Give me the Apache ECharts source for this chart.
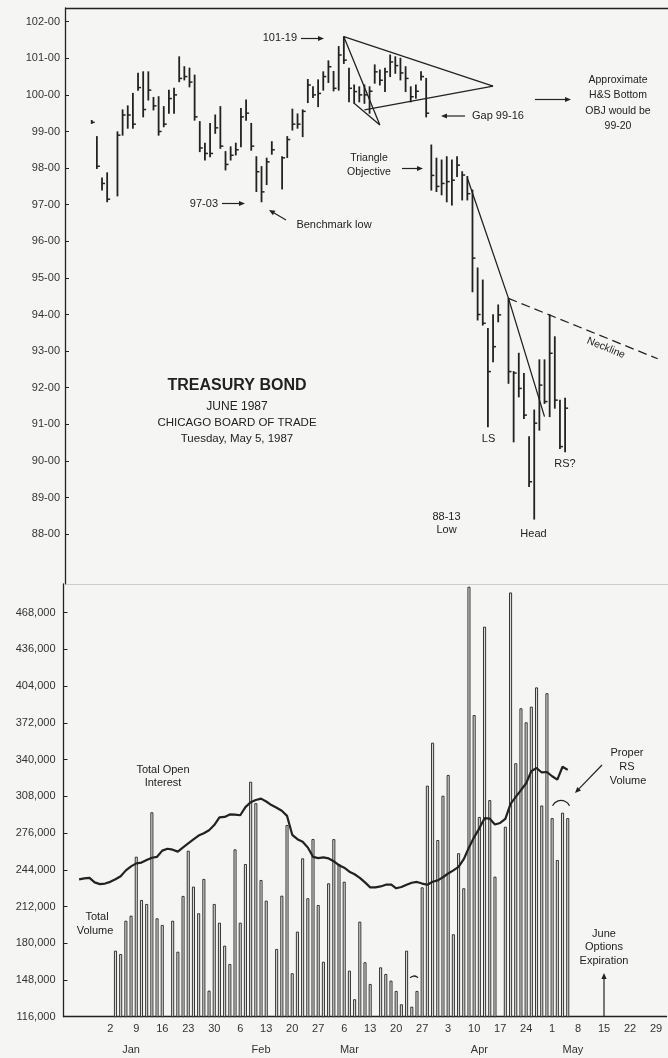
<!DOCTYPE html>
<html>
<head>
<meta charset="utf-8">
<script src="https://cdn.jsdelivr.net/npm/echarts@6/dist/echarts.min.js"></script>
<style>
  html, body { margin: 0; padding: 0; background: #f5f5f3; }
  #chart { width: 668px; height: 1058px; }
</style>
</head>
<body>
<div id="chart"></div>
<script>
// ---------- categories: trading weekdays ----------
function weekdays(from, to) {
  const out = [];
  const d = new Date(from + 'T00:00:00Z');
  const end = new Date(to + 'T00:00:00Z');
  while (d <= end) {
    const w = d.getUTCDay();
    if (w !== 0 && w !== 6) out.push(d.toISOString().slice(0, 10));
    d.setUTCDate(d.getUTCDate() + 1);
  }
  return out;
}
const sessions = weekdays('1986-12-19', '1987-06-02');
const topDays = sessions;            // price panel
const bottomDays = sessions.slice(1); // volume panel

// ---------- tick labels ----------
const priceTicks = [88, 89, 90, 91, 92, 93, 94, 95, 96, 97, 98, 99, 100, 101, 102];
const volumeTicks = [116000, 148000, 180000, 212000, 244000, 276000, 308000, 340000, 372000, 404000, 436000, 468000];
const firstDateLabel = '1987-01-02';
const monthLabels = { '1987-01-08': 'Jan', '1987-02-12': 'Feb', '1987-03-09': 'Mar', '1987-04-13': 'Apr', '1987-05-07': 'May' };

// ---------- price bars (June 1987 T-bond), from 1986-12-26 ----------
const priceStart = '1986-12-26';
const high = [
  99.30,
  98.86, 97.73, 97.87, null, 98.99,
  99.59, 99.70, 100.04, 100.59, 100.63,
  100.63, 99.93, 99.95, 99.68, 100.13,
  100.18, 101.04, 100.77, 100.73, 100.54,
  99.27, 98.68, 99.22, 99.45, 99.68,
  98.45, 98.58, 98.68, 99.63, 99.86,
  99.22, 98.31, 98.04, 98.27, 98.72,
  null, 98.31, 98.86, 99.61, 99.48,
  99.59, 100.42, 100.22, 100.41, 100.63,
  100.93, 100.64, 101.32, 101.59, 100.73,
  100.27, 100.22, 100.27, 100.22, 100.82,
  100.68, 100.73, 101.09, 101.04, 101.00,
  100.77, 100.22, 100.27, 100.63, 100.45,
  98.63, 98.27, 98.22, 98.31, 98.22,
  98.31, 97.90, 97.77, 97.40, 95.27,
  94.94, 93.62, 93.99, 94.26, null,
  94.44, 92.44, 92.94, 92.39, 90.66,
  91.39, 92.76, 92.76, 93.99, 93.39,
  91.66, 91.71
];
const low = [
  99.22,
  97.99, 97.40, 97.08, null, 97.24,
  98.90, 99.09, 99.09, 100.13, 99.40,
  99.86, 99.59, 98.90, 99.13, 99.50,
  99.50, 100.36, 100.41, 100.22, 99.31,
  98.45, 98.22, 98.31, 98.95, 98.54,
  97.95, 98.22, 98.36, 98.58, 99.31,
  98.49, 97.36, 97.08, 97.55, 98.38,
  null, 97.43, 98.29, 99.04, 99.09,
  98.86, 99.79, 99.93, 99.68, 100.13,
  100.34, 100.11, 100.13, 100.86, 99.81,
  99.77, 99.81, 99.77, 99.50, 100.32,
  100.27, 100.09, 100.50, 100.59, 100.41,
  100.09, 99.81, 99.91, 100.41, 99.40,
  97.40, 97.36, 97.27, 97.08, 96.99,
  97.77, 97.13, 97.13, 94.62, 93.85,
  93.71, 90.93, 92.71, 93.80, null,
  92.12, 90.52, 91.75, 91.16, 89.30,
  88.41, 90.84, 91.57, 91.21, 91.44,
  90.34, 90.25
];
const close = [
  99.25,
  98.05, 97.58, 97.15, null, 98.90,
  99.45, 99.45, 99.20, 100.20, 99.60,
  100.13, 99.70, 99.00, 99.20, 99.90,
  100.00, 100.45, 100.50, 100.35, 99.40,
  98.55, 98.40, 98.40, 99.10, 98.60,
  98.10, 98.35, 98.50, 99.40, 99.50,
  98.60, 97.90, 97.35, 98.17, 98.50,
  null, 98.28, 98.78, 99.20, 99.20,
  99.55, 100.27, 100.00, 100.04, 100.50,
  100.77, 100.18, 101.09, 100.95, 100.18,
  100.09, 100.00, 100.00, 100.10, 100.63,
  100.40, 100.63, 100.90, 100.80, 100.60,
  100.45, 99.95, 100.10, 100.50, 99.50,
  97.80, 97.50, 97.58, 97.63, 97.67,
  98.08, 97.81, 97.30, 95.54, 94.00,
  93.76, 92.44, 93.12, 93.99, null,
  92.44, 92.40, 91.98, 91.25, 89.43,
  91.03, 92.07, 91.62, 92.94, 91.66,
  90.39, 91.44
];

// ---------- total volume, from 1987-01-05 ----------
const volumeStart = '1987-01-05';
const volume = [
  173500, 170600, 199600, 204000, 255400,
  217700, 214200, 294100, 201700, 195900,
  null, 199600, 172600, 221200, 260600,
  229300, 206100, 236000, 138700, 214200,
  197900, 177900, 161900, 261800, 197900,
  249000, 320700, 302000, 235100, 217100,
  null, 175000, 221400, 283000, 153800,
  190100, 254000, 219200, 270800, 213300,
  163900, 232200, 270700, 249000, 233600,
  156100, 131200, 198800, 163400, 144500,
  null, 159000, 153200, 147400, 138400,
  126800, 173500, 124700, 138400, 228700,
  317300, 354700, 269900, 308500, 326600,
  187800, 258400, 227900, 490600, 378800,
  290000, 455800, 304700, 238000, null,
  281500, 485600, 336800, 384700, 372500,
  386100, 402900, 300000, 397800, 289000,
  252500, 293700, 289000
];

// ---------- total open interest, from 1986-12-25 ----------
const openIntStart = '1986-12-25';
const openInterest = [
  235700, 236500,
  237000, 233000, 231500, 232000, 233500,
  235700, 238400, 243500, 247000, 249600,
  250300, 252500, 254500, 255300, 260700,
  262300, 261500, 259800, 263500, 267000,
  270400, 273800, 275800, 278500, 283000,
  289700, 290100, 292200, 292000, 291500,
  298600, 302900, 304800, 306000, 303500,
  300400, 298000, 295400, 291000, 274500,
  270700, 268500, 263500, 255300, 254200,
  254800, 253900, 251400, 248000, 245800,
  242300, 240100, 237000, 233000, 228700,
  228700, 229500, 231000, 231200, 227900,
  229000, 231000, 232700, 233400, 232000,
  231000, 233600, 234800, 237500, 240800,
  243500, 246500, 253200, 263500, 272500,
  280100, 289000, 288500, 283500, 284800,
  288300, 301500, 307500, 313400, 319400,
  330000, 332700, 328800, 329200, 325500,
  322500, 333800, 331000
];

// ---------- drawn trend lines (date, price) ----------
const triangleUpper = [['1987-03-05', 101.59], ['1987-04-15', 100.24]];
const triangleLower = [['1987-03-11', 99.59], ['1987-04-15', 100.24]];
const objectiveLine = [['1987-03-05', 101.59], ['1987-03-16', 99.18], ['1987-03-09', 99.77]];
const downTrend = [['1987-04-08', 97.73], ['1987-04-20', 94.44], ['1987-04-29', 91.21]];
const neckline = [['1987-04-20', 94.44], ['1987-05-29', 92.79]];

// ---------- helpers ----------
function align(days, start, values) {
  const i0 = days.indexOf(start);
  return days.map((d, i) => (i >= i0 && i - i0 < values.length) ? values[i - i0] : null);
}
const isFriday = v => new Date(v + 'T00:00:00Z').getUTCDay() === 5;

const hA = align(topDays, priceStart, high);
const lA = align(topDays, priceStart, low);
const cA = align(topDays, priceStart, close);
const priceData = [];
topDays.forEach((d, i) => { if (hA[i] != null) priceData.push([i, hA[i], lA[i], cA[i]]); });

const volData = align(bottomDays, volumeStart, volume);
const oiData = align(bottomDays, openIntStart, openInterest);

const INK = '#222';
const FONT = '"Liberation Sans", Arial, sans-serif';

function txt(text, x, y, size, opts) {
  opts = opts || {};
  return {
    type: 'text', x: x, y: y, rotation: opts.rot || 0, z: 50,
    style: {
      text: text, fill: INK,
      font: (opts.bold ? 'bold ' : '') + size + 'px ' + FONT,
      textAlign: opts.align || 'center', textVerticalAlign: 'middle'
    }
  };
}
function arrow(x1, y1, x2, y2) {
  const a = Math.atan2(y2 - y1, x2 - x1), L = 6, W = 2.6;
  const bx = x2 - L * Math.cos(a), by = y2 - L * Math.sin(a);
  return [
    { type: 'line', z: 50, shape: { x1: x1, y1: y1, x2: bx, y2: by }, style: { stroke: INK, lineWidth: 1.2 } },
    { type: 'polygon', z: 50, shape: { points: [[x2, y2], [bx + W * Math.sin(a), by - W * Math.cos(a)], [bx - W * Math.sin(a), by + W * Math.cos(a)]] }, style: { fill: INK } }
  ];
}
function arcMark(cx, cy, r, half) {
  return { type: 'arc', z: 50, shape: { cx: cx, cy: cy, r: r, startAngle: -Math.PI / 2 - half, endAngle: -Math.PI / 2 + half, clockwise: true }, style: { stroke: INK, lineWidth: 1.3, fill: null } };
}

const graphics = [].concat(
  txt('101-19', 297, 38, 11, { align: 'right' }), arrow(301, 38.5, 324, 38.5),
  txt('97-03', 218, 203.5, 11, { align: 'right' }), arrow(222, 203.5, 245, 203.5),
  txt('Benchmark low', 334, 224.5, 11), arrow(286, 220, 269, 210),
  txt('Triangle', 369, 158.5, 10.5), txt('Objective', 369, 172.5, 10.5), arrow(402, 168.5, 423, 168.5),
  txt('Gap 99-16', 472, 116, 11, { align: 'left' }), arrow(465, 116, 441, 116),
  arrow(535, 99.5, 571, 99.5),
  txt('Approximate', 618, 80, 10.5), txt('H&S Bottom', 618, 95.5, 10.5), txt('OBJ would be', 618, 111, 10.5), txt('99-20', 618, 126.5, 10.5),
  txt('TREASURY BOND', 237, 386, 16, { bold: true }),
  txt('JUNE 1987', 237, 407, 12), txt('CHICAGO BOARD OF TRADE', 237, 423, 11.5), txt('Tuesday, May 5, 1987', 237, 438.5, 11.5),
  txt('Neckline', 606, 348, 10.5, { rot: -0.39 }),
  txt('LS', 488.5, 438.5, 11), txt('RS?', 565, 463.5, 11), txt('Head', 533.5, 534, 11),
  txt('88-13', 446.5, 516.5, 11), txt('Low', 446.5, 530, 11),
  txt('Total Open', 163, 769.5, 11), txt('Interest', 163, 783, 11),
  txt('Total', 97, 917, 11), txt('Volume', 95, 930.5, 11),
  txt('Proper', 627, 752.5, 11), txt('RS', 627, 766.5, 11), txt('Volume', 628, 780.5, 11),
  arrow(602, 765, 575, 793),
  arcMark(561, 810, 9.5, 1.1), arcMark(414, 981, 5, 0.9),
  txt('June', 604, 934, 11), txt('Options', 604, 947, 11), txt('Expiration', 604, 960.5, 11),
  arrow(604, 1016, 604, 973)
);

function trend(data, dashed) {
  return {
    type: 'line', xAxisIndex: 0, yAxisIndex: 0, data: data, symbol: 'none', silent: true, z: 4,
    lineStyle: { color: INK, width: 1.3, type: dashed ? [9, 5] : 'solid' }
  };
}

const chart = echarts.init(document.getElementById('chart'), null, { renderer: 'canvas' });
chart.setOption({
  backgroundColor: '#f5f5f3',
  animation: false,
  textStyle: { fontFamily: FONT },
  grid: [
    { left: 66, top: 8, width: 608, height: 576 },
    { left: 63.5, top: 584, width: 603, height: 432.7 }
  ],
  xAxis: [
    { gridIndex: 0, type: 'category', data: topDays, boundaryGap: false, position: 'bottom',
      axisLine: { onZero: false, lineStyle: { color: '#cdcdcb', width: 1 } }, axisTick: { show: false }, axisLabel: { show: false } },
    { gridIndex: 0, type: 'category', data: topDays, boundaryGap: false, position: 'top',
      axisLine: { onZero: false, lineStyle: { color: INK, width: 1.3 } }, axisTick: { show: false }, axisLabel: { show: false } },
    { gridIndex: 1, type: 'category', data: bottomDays, boundaryGap: false, position: 'bottom',
      axisLine: { onZero: false, lineStyle: { color: INK, width: 1.3 } }, axisTick: { show: false },
      axisLabel: { interval: (i, v) => isFriday(v) && v >= firstDateLabel, formatter: v => String(+v.slice(8)), fontSize: 11, color: '#333', margin: 7 } },
    { gridIndex: 1, type: 'category', data: bottomDays, boundaryGap: false, position: 'bottom', offset: 21,
      axisLine: { show: false }, axisTick: { show: false },
      axisLabel: { interval: (i, v) => v in monthLabels, formatter: v => monthLabels[v] || '', fontSize: 11, color: '#333', margin: 7 } }
  ],
  yAxis: [
    { gridIndex: 0, type: 'value', min: 86.636, max: 102.374, offset: 1,
      axisLine: { show: true, lineStyle: { color: INK, width: 1.3 } },
      axisTick: { show: true, inside: true, length: 4, customValues: priceTicks, lineStyle: { color: INK } },
      axisLabel: { customValues: priceTicks, formatter: v => Math.round(v) + '-00', fontSize: 11, color: '#333', margin: 5 },
      splitLine: { show: false } },
    { gridIndex: 1, type: 'value', min: 116000, max: 493000,
      axisLine: { show: true, lineStyle: { color: INK, width: 1.3 } },
      axisTick: { show: true, inside: true, length: 4, customValues: volumeTicks, lineStyle: { color: INK } },
      axisLabel: { customValues: volumeTicks, formatter: v => Number(v).toLocaleString('en-US'), fontSize: 11, color: '#333', margin: 8 },
      splitLine: { show: false } }
  ],
  series: [
    {
      type: 'custom', xAxisIndex: 0, yAxisIndex: 0, data: priceData, encode: { x: 0, y: [1, 2, 3] }, z: 3,
      renderItem: function (params, api) {
        const x = api.value(0);
        const pH = api.coord([x, api.value(1)]);
        const pL = api.coord([x, api.value(2)]);
        const pC = api.coord([x, api.value(3)]);
        return {
          type: 'group', children: [
            { type: 'line', shape: { x1: pH[0], y1: pH[1] - 0.5, x2: pL[0], y2: pL[1] + 0.5 }, style: { stroke: INK, lineWidth: 1.8 } },
            { type: 'line', shape: { x1: pC[0], y1: pC[1], x2: pC[0] + 3, y2: pC[1] }, style: { stroke: INK, lineWidth: 1.5 } }
          ]
        };
      }
    },
    trend(triangleUpper), trend(triangleLower), trend(objectiveLine), trend(downTrend), trend(neckline, true),
    {
      type: 'bar', xAxisIndex: 2, yAxisIndex: 1, data: volData, barWidth: 3, z: 2,
      itemStyle: { color: '#dcdcda', borderColor: INK, borderWidth: 0.9 }
    },
    {
      type: 'line', xAxisIndex: 2, yAxisIndex: 1, data: oiData, symbol: 'none', z: 5,
      lineStyle: { color: INK, width: 2.2 }
    }
  ],
  graphic: graphics
});
</script>
</body>
</html>
